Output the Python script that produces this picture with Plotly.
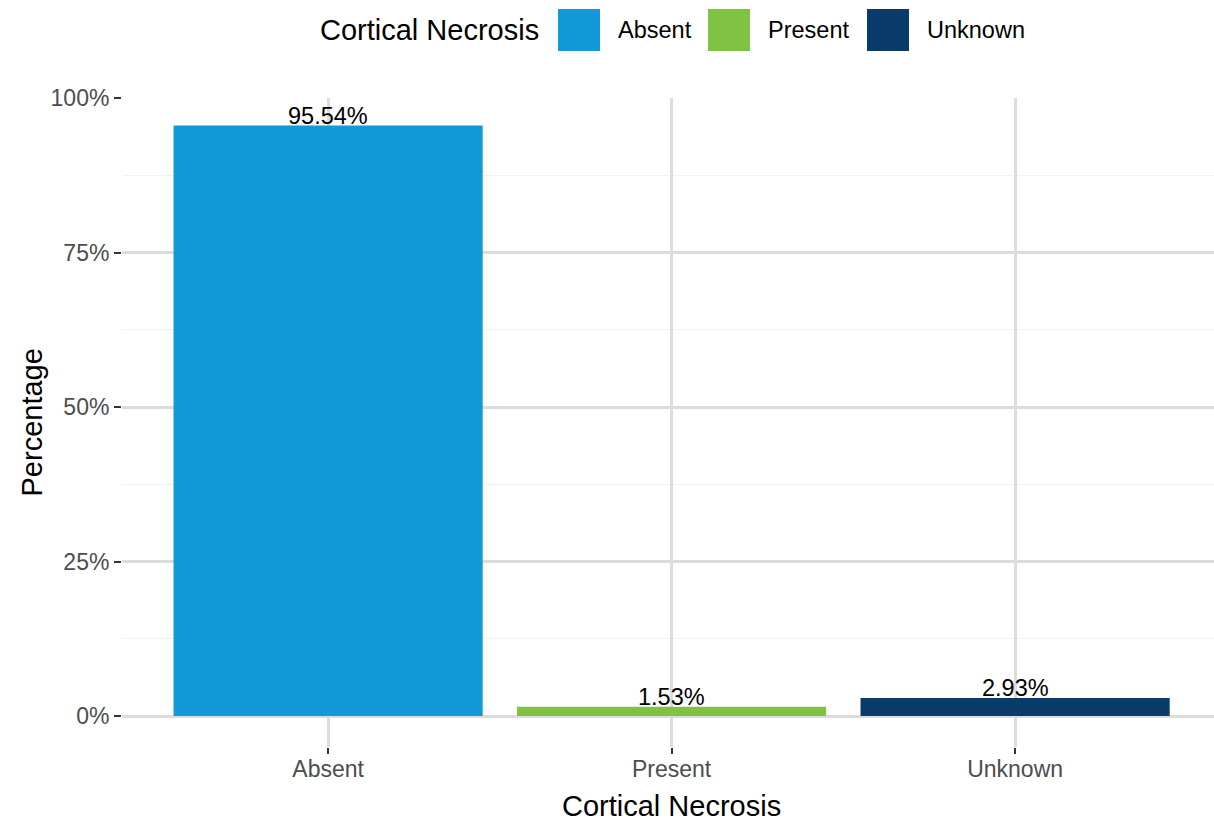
import plotly.graph_objects as go

categories = ["Absent", "Present", "Unknown"]
percentages = [95.54, 1.53, 2.93]
colors = ["#119AD7", "#80C241", "#0A3B6B"]
y_tickvals = [0, 25, 50, 75, 100]
y_ticktext = ["0%", "25%", "50%", "75%", "100%"]
legend_title = "Cortical Necrosis"
x_title = "Cortical Necrosis"
y_title = "Percentage"

W, H = 1214, 823
L, R, T, B = 122, 0, 98, 76
PW, PH = W - L - R, H - T - B
FONT = "Liberation Sans, Arial, Helvetica, sans-serif"


def px_x(px):
    return (px - L) / PW


def px_y(py):
    return (H - B - py) / PH


fig = go.Figure()
fig.add_trace(go.Bar(
    x=categories, y=percentages, marker=dict(color=colors, line=dict(width=0)),
    width=0.9, showlegend=False, hoverinfo="skip", cliponaxis=False,
))

annotations = []
for c, v in zip(categories, percentages):
    annotations.append(dict(
        x=c, y=v, xref="x", yref="y", text=f"{v:.2f}%", showarrow=False,
        xanchor="center", yanchor="bottom", yshift=-5,
        font=dict(family=FONT, size=23.5, color="#000000"),
    ))

# axis titles
annotations.append(dict(
    x=px_x(671), y=px_y(806), xref="paper", yref="paper", text=x_title,
    showarrow=False, xanchor="center", yanchor="middle",
    font=dict(family=FONT, size=29, color="#000000"),
))
annotations.append(dict(
    x=px_x(31), y=0.5, xref="paper", yref="paper", text=y_title,
    showarrow=False, xanchor="center", yanchor="middle", textangle=-90,
    font=dict(family=FONT, size=29, color="#000000"),
))

# legend (drawn manually, ggplot style)
annotations.append(dict(
    x=px_x(318), y=px_y(30), xref="paper", yref="paper", text=legend_title,
    showarrow=False, xanchor="left", yanchor="middle",
    font=dict(family=FONT, size=29, color="#000000"),
))
key_left = [558, 708, 867]
shapes = []
for c, col, kx in zip(categories, colors, key_left):
    shapes.append(dict(
        type="rect", xref="paper", yref="paper",
        x0=px_x(kx), x1=px_x(kx + 42), y0=px_y(51), y1=px_y(9),
        fillcolor=col, line=dict(width=0), layer="above",
    ))
    annotations.append(dict(
        x=px_x(kx + 58), y=px_y(30), xref="paper", yref="paper", text=c,
        showarrow=False, xanchor="left", yanchor="middle",
        font=dict(family=FONT, size=23.5, color="#000000"),
    ))

fig.update_layout(
    width=W, height=H,
    margin=dict(l=L, r=R, t=T, b=B, pad=0),
    paper_bgcolor="white", plot_bgcolor="white",
    font=dict(family=FONT, color="#4D4D4D"),
    annotations=annotations, shapes=shapes,
    showlegend=False, bargap=0.1,
)
fig.update_xaxes(
    range=[-0.6, 2.579], showgrid=True, gridcolor="#DCDCDC", gridwidth=2.5,
    ticks="outside", ticklen=6, tickwidth=2, tickcolor="#333333",
    tickfont=dict(family=FONT, size=23, color="#4D4D4D"),
    ticklabelstandoff=-5,
    showline=False, zeroline=False, fixedrange=True,
)
fig.update_yaxes(
    range=[-5, 100], tickvals=y_tickvals, ticktext=y_ticktext,
    showgrid=True, gridcolor="#DCDCDC", gridwidth=2.5,
    minor=dict(tickvals=[12.5, 37.5, 62.5, 87.5], showgrid=True,
               gridcolor="#F2F2F2", gridwidth=1.3, ticklen=0),
    ticks="outside", ticklen=7, tickwidth=2, tickcolor="#333333",
    tickfont=dict(family=FONT, size=23, color="#4D4D4D"),
    showline=False, zeroline=False, fixedrange=True,
)

fig.write_html(
    "out.html",
    config={"displayModeBar": False},
    post_script="document.body.style.margin='0';document.body.style.overflow='hidden';",
)
